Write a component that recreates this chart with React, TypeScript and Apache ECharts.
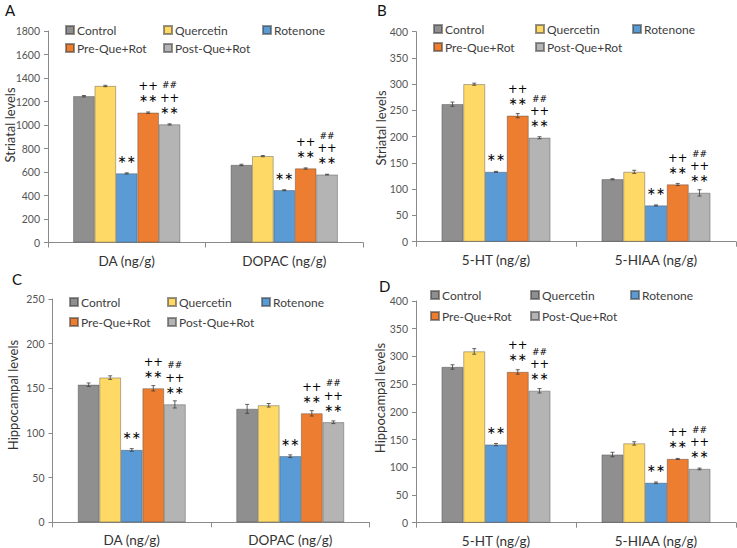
import React, { useEffect, useRef } from 'react';
import * as echarts from 'echarts';

// ---------- data ----------
const seriesNames = ['Control', 'Quercetin', 'Rotenone', 'Pre-Que+Rot', 'Post-Que+Rot'];
const seriesColors = ['#8f8f8f', '#ffd966', '#5b9bd5', '#ed7d31', '#b4b4b4'];
// significance marks per series (bottom line first)
const seriesMarks: string[][] = [[], [], ['**'], ['**', '++'], ['**', '++', '##']];

const catsCatecholamine = ['DA (ng/g)', 'DOPAC (ng/g)'];
const catsSerotonin = ['5-HT (ng/g)', '5-HIAA (ng/g)'];

// Panel A: striatal DA / DOPAC
const valuesA = [[1245, 660], [1332, 735], [588, 445], [1105, 630], [1005, 578]];
const errorsA = [[6, 6], [6, 5], [5, 4], [6, 5], [5, 3]];
const ticksA = { max: 1800, interval: 200 };

// Panel B: striatal 5-HT / 5-HIAA
const valuesB = [[262, 119], [300, 133], [133, 69], [240, 109], [198, 93]];
const errorsB = [[4, 1], [2, 3], [1, 1], [4, 2], [2, 6]];
const ticksB = { max: 400, interval: 50 };

// Panel C: hippocampal DA / DOPAC
const valuesC = [[154, 127], [162, 131], [81, 74], [150, 122], [132, 112]];
const errorsC = [[2, 5], [2, 2], [1.5, 1.5], [3, 3], [4, 1.5]];
const ticksC = { max: 250, interval: 50 };

// Panel D: hippocampal 5-HT / 5-HIAA
const valuesD = [[281, 123], [309, 143], [141, 72], [272, 115], [238, 97]];
const errorsD = [[4, 4], [5, 3], [2, 1.5], [4, 1], [4, 1.5]];
const ticksD = { max: 400, interval: 50 };

// ---------- layout ----------
const panels = [
  {
    letter: 'A', letterPos: [5, 2], cats: catsCatecholamine, values: valuesA, errors: errorsA, ticks: ticksA,
    grid: { left: 48, top: 31, width: 315, height: 211.5 },
    yTitle: 'Striatal levels', yTitlePos: [10, 125],
    legendX: [65, 163, 262], legendY: [31, 49], legendOverride: {} as Record<number, string>,
  },
  {
    letter: 'B', letterPos: [377, 2], cats: catsSerotonin, values: valuesB, errors: errorsB, ticks: ticksB,
    grid: { left: 416, top: 31.7, width: 320, height: 210 },
    yTitle: 'Striatal levels', yTitlePos: [381, 128],
    legendX: [433, 535, 632], legendY: [30, 48], legendOverride: {} as Record<number, string>,
  },
  {
    letter: 'C', letterPos: [12, 271], cats: catsCatecholamine, values: valuesC, errors: errorsC, ticks: ticksC,
    grid: { left: 52.5, top: 299, width: 317, height: 223.3 },
    yTitle: 'Hippocampal levels', yTitlePos: [13, 395],
    legendX: [69, 167, 261], legendY: [303, 323], legendOverride: {} as Record<number, string>,
  },
  {
    letter: 'D', letterPos: [379, 278], cats: catsSerotonin, values: valuesD, errors: errorsD, ticks: ticksD,
    grid: { left: 416, top: 301, width: 320, height: 221.7 },
    yTitle: 'Hippocampal levels', yTitlePos: [380, 398],
    legendX: [430, 530, 630], legendY: [296, 317], legendOverride: { 1: '#8f8f8f' } as Record<number, string>,
  },
];

const BAR_GAP = 0.32;
const FONT = 'Lato, "Open Sans", sans-serif';
const SYM = '"DejaVu Sans", sans-serif';

function buildOption() {
  const grids: any[] = [];
  const xAxes: any[] = [];
  const yAxes: any[] = [];
  const series: any[] = [];
  const legends: any[] = [];
  const graphics: any[] = [];

  panels.forEach((p, pi) => {
    grids.push({ ...p.grid, outerBoundsMode: 'none', containLabel: false });
    xAxes.push({
      type: 'category',
      gridIndex: pi,
      data: p.cats,
      axisLine: { lineStyle: { color: '#8a8a8a', width: 1 } },
      axisTick: { show: true, length: 5, lineStyle: { color: '#8a8a8a' } },
      axisLabel: { margin: 11, fontSize: 13.5, fontFamily: FONT, color: '#333333' },
    });
    yAxes.push({
      type: 'value',
      gridIndex: pi,
      min: 0,
      max: p.ticks.max,
      interval: p.ticks.interval,
      axisLine: { show: true, lineStyle: { color: '#8a8a8a', width: 1 } },
      axisTick: { show: true, length: 4, lineStyle: { color: '#8a8a8a' } },
      splitLine: { show: false },
      axisLabel: {
        margin: 8,
        fontSize: 10.5,
        fontFamily: FONT,
        color: '#555555',
        formatter: (v: number) => String(v),
      },
    });

    seriesNames.forEach((name, si) => {
      series.push({
        type: 'bar',
        name,
        xAxisIndex: pi,
        yAxisIndex: pi,
        data: p.values[si],
        barGap: '0%',
        barCategoryGap: `${BAR_GAP * 100}%`,
        itemStyle: { color: seriesColors[si], borderColor: 'rgba(60,60,60,0.55)', borderWidth: 0.7 },
        z: 2,
      });
    });

    // error bars + significance marks
    seriesNames.forEach((name, si) => {
      const data = p.values[si].map((v, ci) => [ci, v, p.errors[si][ci]]);
      const marks = seriesMarks[si];
      series.push({
        type: 'custom',
        name: name + ' err',
        xAxisIndex: pi,
        yAxisIndex: pi,
        z: 5,
        silent: true,
        data,
        encode: { x: 0, y: 1 },
        renderItem: (params: any, api: any) => {
          const c = api.value(0);
          const v = api.value(1);
          const e = api.value(2);
          const band = api.size([1, 0])[0];
          const bw = (band * (1 - BAR_GAP)) / 5;
          const off = (si - 2) * bw;
          const t = api.coord([c, v + e]);
          const b = api.coord([c, v - e]);
          const top = api.coord([c, v]);
          const x = t[0] + off;
          const st = { stroke: '#3c3c3c', lineWidth: 0.8 };
          const children: any[] = [
            { type: 'line', shape: { x1: x, y1: t[1], x2: x, y2: b[1] }, style: st },
            { type: 'line', shape: { x1: x - 2, y1: t[1], x2: x + 2, y2: t[1] }, style: st },
            { type: 'line', shape: { x1: x - 2, y1: b[1], x2: x + 2, y2: b[1] }, style: st },
          ];
          marks.forEach((m, k) => {
            const text = m === '**' ? '\u2217\u2217' : m;
            const size = m === '##' ? 9 : m === '++' ? 11.5 : 11;
            children.push({
              type: 'text',
              x: x,
              y: top[1] - 14 - k * 12.5,
              style: {
                text,
                fill: '#000000',
                fontSize: size,
                fontFamily: SYM,
                align: 'center',
                verticalAlign: 'middle',
              },
            });
          });
          return { type: 'group', children };
        },
      });
    });

    // legends, one item each
    seriesNames.forEach((name, si) => {
      const row = si < 3 ? 0 : 1;
      const col = si < 3 ? si : si - 3;
      const override = p.legendOverride[si];
      legends.push({
        left: p.legendX[col],
        top: p.legendY[row] - 7,
        padding: 0,
        itemWidth: 8,
        itemHeight: 8,
        icon: 'rect',
        selectedMode: false,
        data: [override ? { name, itemStyle: { color: override } } : name],
        textStyle: { fontSize: 12, fontFamily: FONT, color: '#404040', padding: [0, 0, 0, -2] },
      });
    });

    graphics.push({
      type: 'text',
      left: p.letterPos[0],
      top: p.letterPos[1],
      style: { text: p.letter, fontSize: 15, fontFamily: FONT, fill: '#111' },
    });
    graphics.push({
      type: 'text',
      x: p.yTitlePos[0],
      y: p.yTitlePos[1],
      rotation: Math.PI / 2,
      style: {
        text: p.yTitle,
        fontSize: 13,
        fontFamily: FONT,
        fill: '#333',
        align: 'center',
        verticalAlign: 'middle',
      },
    });
  });

  return {
    animation: false,
    backgroundColor: '#ffffff',
    grid: grids,
    xAxis: xAxes,
    yAxis: yAxes,
    legend: legends,
    series,
    graphic: graphics,
  };
}

export default function App() {
  const ref = useRef<HTMLDivElement>(null);
  useEffect(() => {
    if (!ref.current) return;
    const chart = echarts.init(ref.current, undefined, { renderer: 'svg' });
    chart.setOption(buildOption() as any);
    return () => chart.dispose();
  }, []);
  return (
    <div
      ref={ref}
      style={{ position: 'absolute', left: 0, top: 0, width: 737, height: 548, background: '#fff' }}
    />
  );
}
